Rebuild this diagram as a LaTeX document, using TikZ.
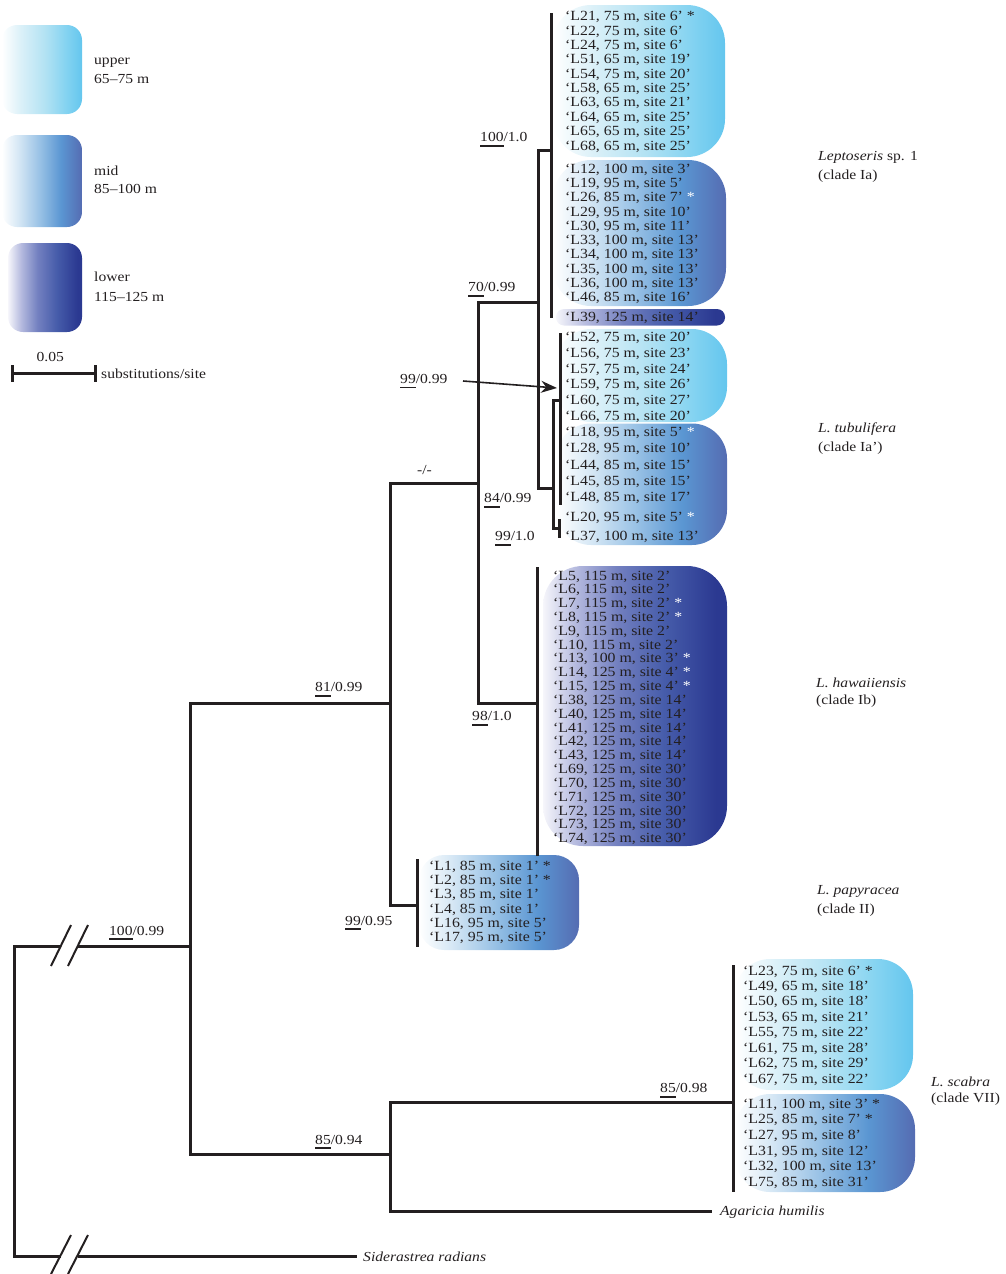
\documentclass[tikz,border=0pt]{standalone}
\usepackage{fontspec}
\setmainfont[FakeStretch=1.13]{Liberation Serif}
\usetikzlibrary{arrows.meta}
\definecolor{tc}{HTML}{231F20}
\definecolor{upA}{RGB}{218,240,248}
\definecolor{upB}{RGB}{178,226,243}
\definecolor{upC}{RGB}{132,211,241}
\definecolor{upD}{RGB}{100,198,238}
\definecolor{mA}{RGB}{215,232,245}
\definecolor{mB}{RGB}{155,195,230}
\definecolor{mC}{RGB}{90,150,210}
\definecolor{mD}{RGB}{85,108,178}
\definecolor{lA}{RGB}{246,246,251}
\definecolor{lB}{RGB}{180,185,222}
\definecolor{lC}{RGB}{115,128,192}
\definecolor{lD}{RGB}{70,92,170}
\definecolor{lE}{RGB}{43,57,145}
\pgfdeclarehorizontalshading{upS}{100bp}{color(0bp)=(white); color(25bp)=(white); color(37bp)=(upA); color(52bp)=(upB); color(65bp)=(upC); color(75bp)=(upD); color(100bp)=(upD)}
\pgfdeclarehorizontalshading{midS}{100bp}{color(0bp)=(white); color(25bp)=(white); color(35bp)=(mA); color(48bp)=(mB); color(62bp)=(mC); color(75bp)=(mD); color(100bp)=(mD)}
\pgfdeclarehorizontalshading{lowS}{100bp}{color(0bp)=(lA); color(25bp)=(lA); color(34bp)=(lB); color(45bp)=(lC); color(58bp)=(lD); color(72bp)=(lE); color(100bp)=(lE)}
\newcommand\wast{\textcolor{white}{*}}
\newcommand\bsul[1]{\setbox0\hbox{#1}\rlap{\rule[-5pt]{\wd0}{1.7pt}}\box0}
\newcommand\leafrows[5]{\foreach \t [count=\i from 0] in {#5} \node[leaf] (#1\i) at (#2, {#3+#4*\i}) {\t};}
\begin{document}
\begin{tikzpicture}[x=1pt,y=-1pt,
  leaf/.style={anchor=base west, inner sep=0pt, text=tc, font=\fontsize{14}{15}\selectfont},
  lbl/.style={anchor=base west, inner sep=0pt, text=tc, font=\fontsize{13.8}{15}\selectfont},
  tree/.style={draw=tc, line width=3pt, line join=miter},
  brk/.style={draw=tc, line width=2pt}]
\useasboundingbox (0,0) rectangle (1006,1274);
% ---------- legend ----------
\shade[shading=upS, rounded corners=15pt] (2,25) rectangle (82,114);
\shade[shading=midS, rounded corners=15pt] (2,135) rectangle (82,227);
\shade[shading=lowS, rounded corners=15pt] (8,243) rectangle (82,332);
\node[lbl] (lg1) at (94,64.3) {upper};
\node[lbl] (lg2) at (94,83.3) {65–75 m};
\node[lbl] (lg3) at (94,175) {mid};
\node[lbl] (lg4) at (94,193.3) {85–100 m};
\node[lbl] (lg5) at (94,281.7) {lower};
\node[lbl] (lg6) at (94,301.7) {115–125 m};
\coordinate (sbL) at (12,373.5);
\coordinate (sbR) at (95.5,373.5);
\draw[tree] (sbL) -- (sbR);
\draw[tree] ([yshift=-8pt]sbL) -- ([yshift=9pt]sbL);
\draw[tree] ([yshift=-8pt]sbR) -- ([yshift=9pt]sbR);
\node[lbl] (sb1) at (36.5,361.7) {0.05};
\node[lbl] (sb2) at (101,378.3) {substitutions/site};
% ---------- coloured boxes ----------
\shade[shading=upS, rounded corners=38pt] (553,5) rectangle (725,157);
\shade[shading=midS, rounded corners=38pt] (553,160) rectangle (726,306);
\shade[shading=lowS, rounded corners=8pt] (556,309) rectangle (725,325.5);
\shade[shading=upS, rounded corners=35pt] (556,329) rectangle (727,422);
\shade[shading=midS, rounded corners=35pt] (556,423.5) rectangle (727,545);
\shade[shading=lowS, rounded corners=40pt] (543,566) rectangle (727,846);
\shade[shading=midS, rounded corners=25pt] (419,855) rectangle (579,950);
\shade[shading=upS, rounded corners=35pt] (735,959) rectangle (913,1090);
\shade[shading=midS, rounded corners=35pt] (735,1094) rectangle (915,1192);
% ---------- tree coordinates ----------
\coordinate (rt) at (14,946);   \coordinate (rb) at (14,1256);
\coordinate (bA) at (61,946);   \coordinate (bB) at (78,946);
\coordinate (bC) at (61,1256);  \coordinate (bD) at (78,1256);
\coordinate (n1t) at (190,703); \coordinate (n1m) at (190,946); \coordinate (n1b) at (190,1154);
\coordinate (n2t) at (390,483); \coordinate (n2m) at (390,703); \coordinate (n2b) at (390,905);
\coordinate (n3t) at (478,302); \coordinate (n3m) at (478,483); \coordinate (n3b) at (478,703);
\coordinate (n4t) at (538,150); \coordinate (n4m) at (538,302); \coordinate (n4b) at (538,488);
\coordinate (iat) at (551,13);  \coordinate (iam) at (551,150); \coordinate (iab) at (551,318);
\coordinate (n5t) at (553,400); \coordinate (n5m) at (553,488); \coordinate (n5b) at (553,528);
\coordinate (s1t) at (560,333); \coordinate (s1m) at (560,400); \coordinate (s1b) at (560,505);
\coordinate (s2t) at (559,519); \coordinate (s2m) at (559,528); \coordinate (s2b) at (559,538);
\coordinate (ibt) at (537,567); \coordinate (ibm) at (537,703); \coordinate (ibb) at (537,856);
\coordinate (pat) at (417,859); \coordinate (pam) at (417,905); \coordinate (pab) at (417,947);
\coordinate (n6t) at (390,1102); \coordinate (n6m) at (390,1154); \coordinate (n6b) at (390,1211);
\coordinate (sct) at (733,965); \coordinate (scm) at (733,1102); \coordinate (scb) at (733,1192);
\coordinate (ag) at (712,1211);
\coordinate (sid) at (357,1256);
% ---------- tree ----------
\draw[tree] (bA) -- (rt) -- (rb) -- (bC);
\draw[tree] (bB) -- (n1m);
\draw[tree] (bD) -- (sid);
\draw[tree] (n2m) -- (n1t) -- (n1b) -- (n6m);
\draw[tree] (n3m) -- (n2t) -- (n2b) -- (pam);
\draw[tree] (n4m) -- (n3t) -- (n3b) -- (ibm);
\draw[tree] (iam) -- (n4t) -- (n4b) -- (n5m);
\draw[tree] (s1m) -- (n5t) -- (n5b) -- (s2m);
\draw[tree] (scm) -- (n6t) -- (n6b) -- (ag);
\draw[tree] (iat) -- (iab);
\draw[tree] (s1t) -- (s1b);
\draw[tree] (s2t) -- (s2b);
\draw[tree] (ibt) -- (ibb);
\draw[tree] (pat) -- (pab);
\draw[tree] (sct) -- (scb);
% break marks
\coordinate (k1a) at (51,966); \coordinate (k1b) at (71,925);
\coordinate (k2a) at (68,966); \coordinate (k2b) at (88,925);
\coordinate (k3a) at (51,1274); \coordinate (k3b) at (71,1235);
\coordinate (k4a) at (68,1274); \coordinate (k4b) at (88,1235);
\draw[brk] (k1a) -- (k1b);
\draw[brk] (k2a) -- (k2b);
\draw[brk] (k3a) -- (k3b);
\draw[brk] (k4a) -- (k4b);
% ---------- support values ----------
\node[lbl] (b1) at (480,141.7) {\bsul{100}/1.0};
\node[lbl] (b2) at (468,291.7) {\bsul{70}/0.99};
\node[lbl] (b3) at (400,383.3) {\bsul{99}/0.99};
\node[lbl] (b4) at (417,474) {-/-};
\node[lbl] (b5) at (484,502.7) {\bsul{84}/0.99};
\node[lbl] (b6) at (495,540.7) {\bsul{99}/1.0};
\node[lbl] (b7) at (315,691.5) {\bsul{81}/0.99};
\node[lbl] (b8) at (472,720.7) {\bsul{98}/1.0};
\node[lbl] (b9) at (345,925) {\bsul{99}/0.95};
\node[lbl] (b10) at (109,935) {\bsul{100}/0.99};
\node[lbl] (b11) at (315,1144) {\bsul{85}/0.94};
\node[lbl] (b12) at (660,1092.5) {\bsul{85}/0.98};
\coordinate (arS) at (463,381);
\coordinate (arE) at (557,388);
\draw[tc, line width=1.6pt, -{Stealth[length=16pt,width=12pt]}] (arS) -- (arE);
% ---------- clade names ----------
\node[lbl] (c1) at (818,160) {\itshape Leptoseris\upshape{} sp. 1};
\node[lbl] (c1b) at (818,179) {(clade Ia)};
\node[lbl] (c2) at (818,432) {\itshape L. tubulifera};
\node[lbl] (c2b) at (818,451) {(clade Ia’)};
\node[lbl] (c3) at (816,687) {\itshape L. hawaiiensis};
\node[lbl] (c3b) at (816,704) {(clade Ib)};
\node[lbl] (c4) at (817,894) {\itshape L. papyracea};
\node[lbl] (c4b) at (817,913) {(clade II)};
\node[lbl] (c5) at (931,1086.5) {\itshape L. scabra};
\node[lbl] (c5b) at (931,1102) {(clade VII)};
\node[lbl] (c6) at (720,1215.5) {\itshape Agaricia humilis};
\node[lbl] (c7) at (363,1261.5) {\itshape Siderastrea radians};
% ---------- leaves ----------
\leafrows{ua}{565}{20.7}{14.37}{{‘L21, 75 m, site 6’ *},{‘L22, 75 m, site 6’},{‘L24, 75 m, site 6’},{‘L51, 65 m, site 19’},{‘L54, 75 m, site 20’},{‘L58, 65 m, site 25’},{‘L63, 65 m, site 21’},{‘L64, 65 m, site 25’},{‘L65, 65 m, site 25’},{‘L68, 65 m, site 25’}}
\leafrows{ma}{565}{173.3}{14.26}{{‘L12, 100 m, site 3’},{‘L19, 95 m, site 5’},{‘L26, 85 m, site 7’ \wast},{‘L29, 95 m, site 10’},{‘L30, 95 m, site 11’},{‘L33, 100 m, site 13’},{‘L34, 100 m, site 13’},{‘L35, 100 m, site 13’},{‘L36, 100 m, site 13’},{‘L46, 85 m, site 16’}}
\node[leaf] (la0) at (565,321.7) {‘L39, 125 m, site 14’};
\leafrows{ub}{565}{341.7}{15.66}{{‘L52, 75 m, site 20’},{‘L56, 75 m, site 23’},{‘L57, 75 m, site 24’},{‘L59, 75 m, site 26’},{‘L60, 75 m, site 27’},{‘L66, 75 m, site 20’}}
\leafrows{mb}{565}{436.7}{16.25}{{‘L18, 95 m, site 5’ \wast},{‘L28, 95 m, site 10’},{‘L44, 85 m, site 15’},{‘L45, 85 m, site 15’},{‘L48, 85 m, site 17’}}
\node[leaf] (mc0) at (565,521.7) {‘L20, 95 m, site 5’ \wast};
\node[leaf] (mc1) at (565,540) {‘L37, 100 m, site 13’};
\leafrows{lb}{553}{580}{13.83}{{‘L5, 115 m, site 2’},{‘L6, 115 m, site 2’},{‘L7, 115 m, site 2’ \wast},{‘L8, 115 m, site 2’ \wast},{‘L9, 115 m, site 2’},{‘L10, 115 m, site 2’},{‘L13, 100 m, site 3’ \wast},{‘L14, 125 m, site 4’ \wast},{‘L15, 125 m, site 4’ \wast},{‘L38, 125 m, site 14’},{‘L40, 125 m, site 14’},{‘L41, 125 m, site 14’},{‘L42, 125 m, site 14’},{‘L43, 125 m, site 14’},{‘L69, 125 m, site 30’},{‘L70, 125 m, site 30’},{‘L71, 125 m, site 30’},{‘L72, 125 m, site 30’},{‘L73, 125 m, site 30’},{‘L74, 125 m, site 30’}}
\leafrows{pm}{429}{870}{14.33}{{‘L1, 85 m, site 1’ *},{‘L2, 85 m, site 1’ *},{‘L3, 85 m, site 1’},{‘L4, 85 m, site 1’},{‘L16, 95 m, site 5’},{‘L17, 95 m, site 5’}}
\leafrows{su}{743}{975}{15.48}{{‘L23, 75 m, site 6’ *},{‘L49, 65 m, site 18’},{‘L50, 65 m, site 18’},{‘L53, 65 m, site 21’},{‘L55, 75 m, site 22’},{‘L61, 75 m, site 28’},{‘L62, 75 m, site 29’},{‘L67, 75 m, site 22’}}
\leafrows{sm}{743}{1108.3}{15.67}{{‘L11, 100 m, site 3’ *},{‘L25, 85 m, site 7’ *},{‘L27, 95 m, site 8’},{‘L31, 95 m, site 12’},{‘L32, 100 m, site 13’},{‘L75, 85 m, site 31’}}
\end{tikzpicture}
\end{document}
